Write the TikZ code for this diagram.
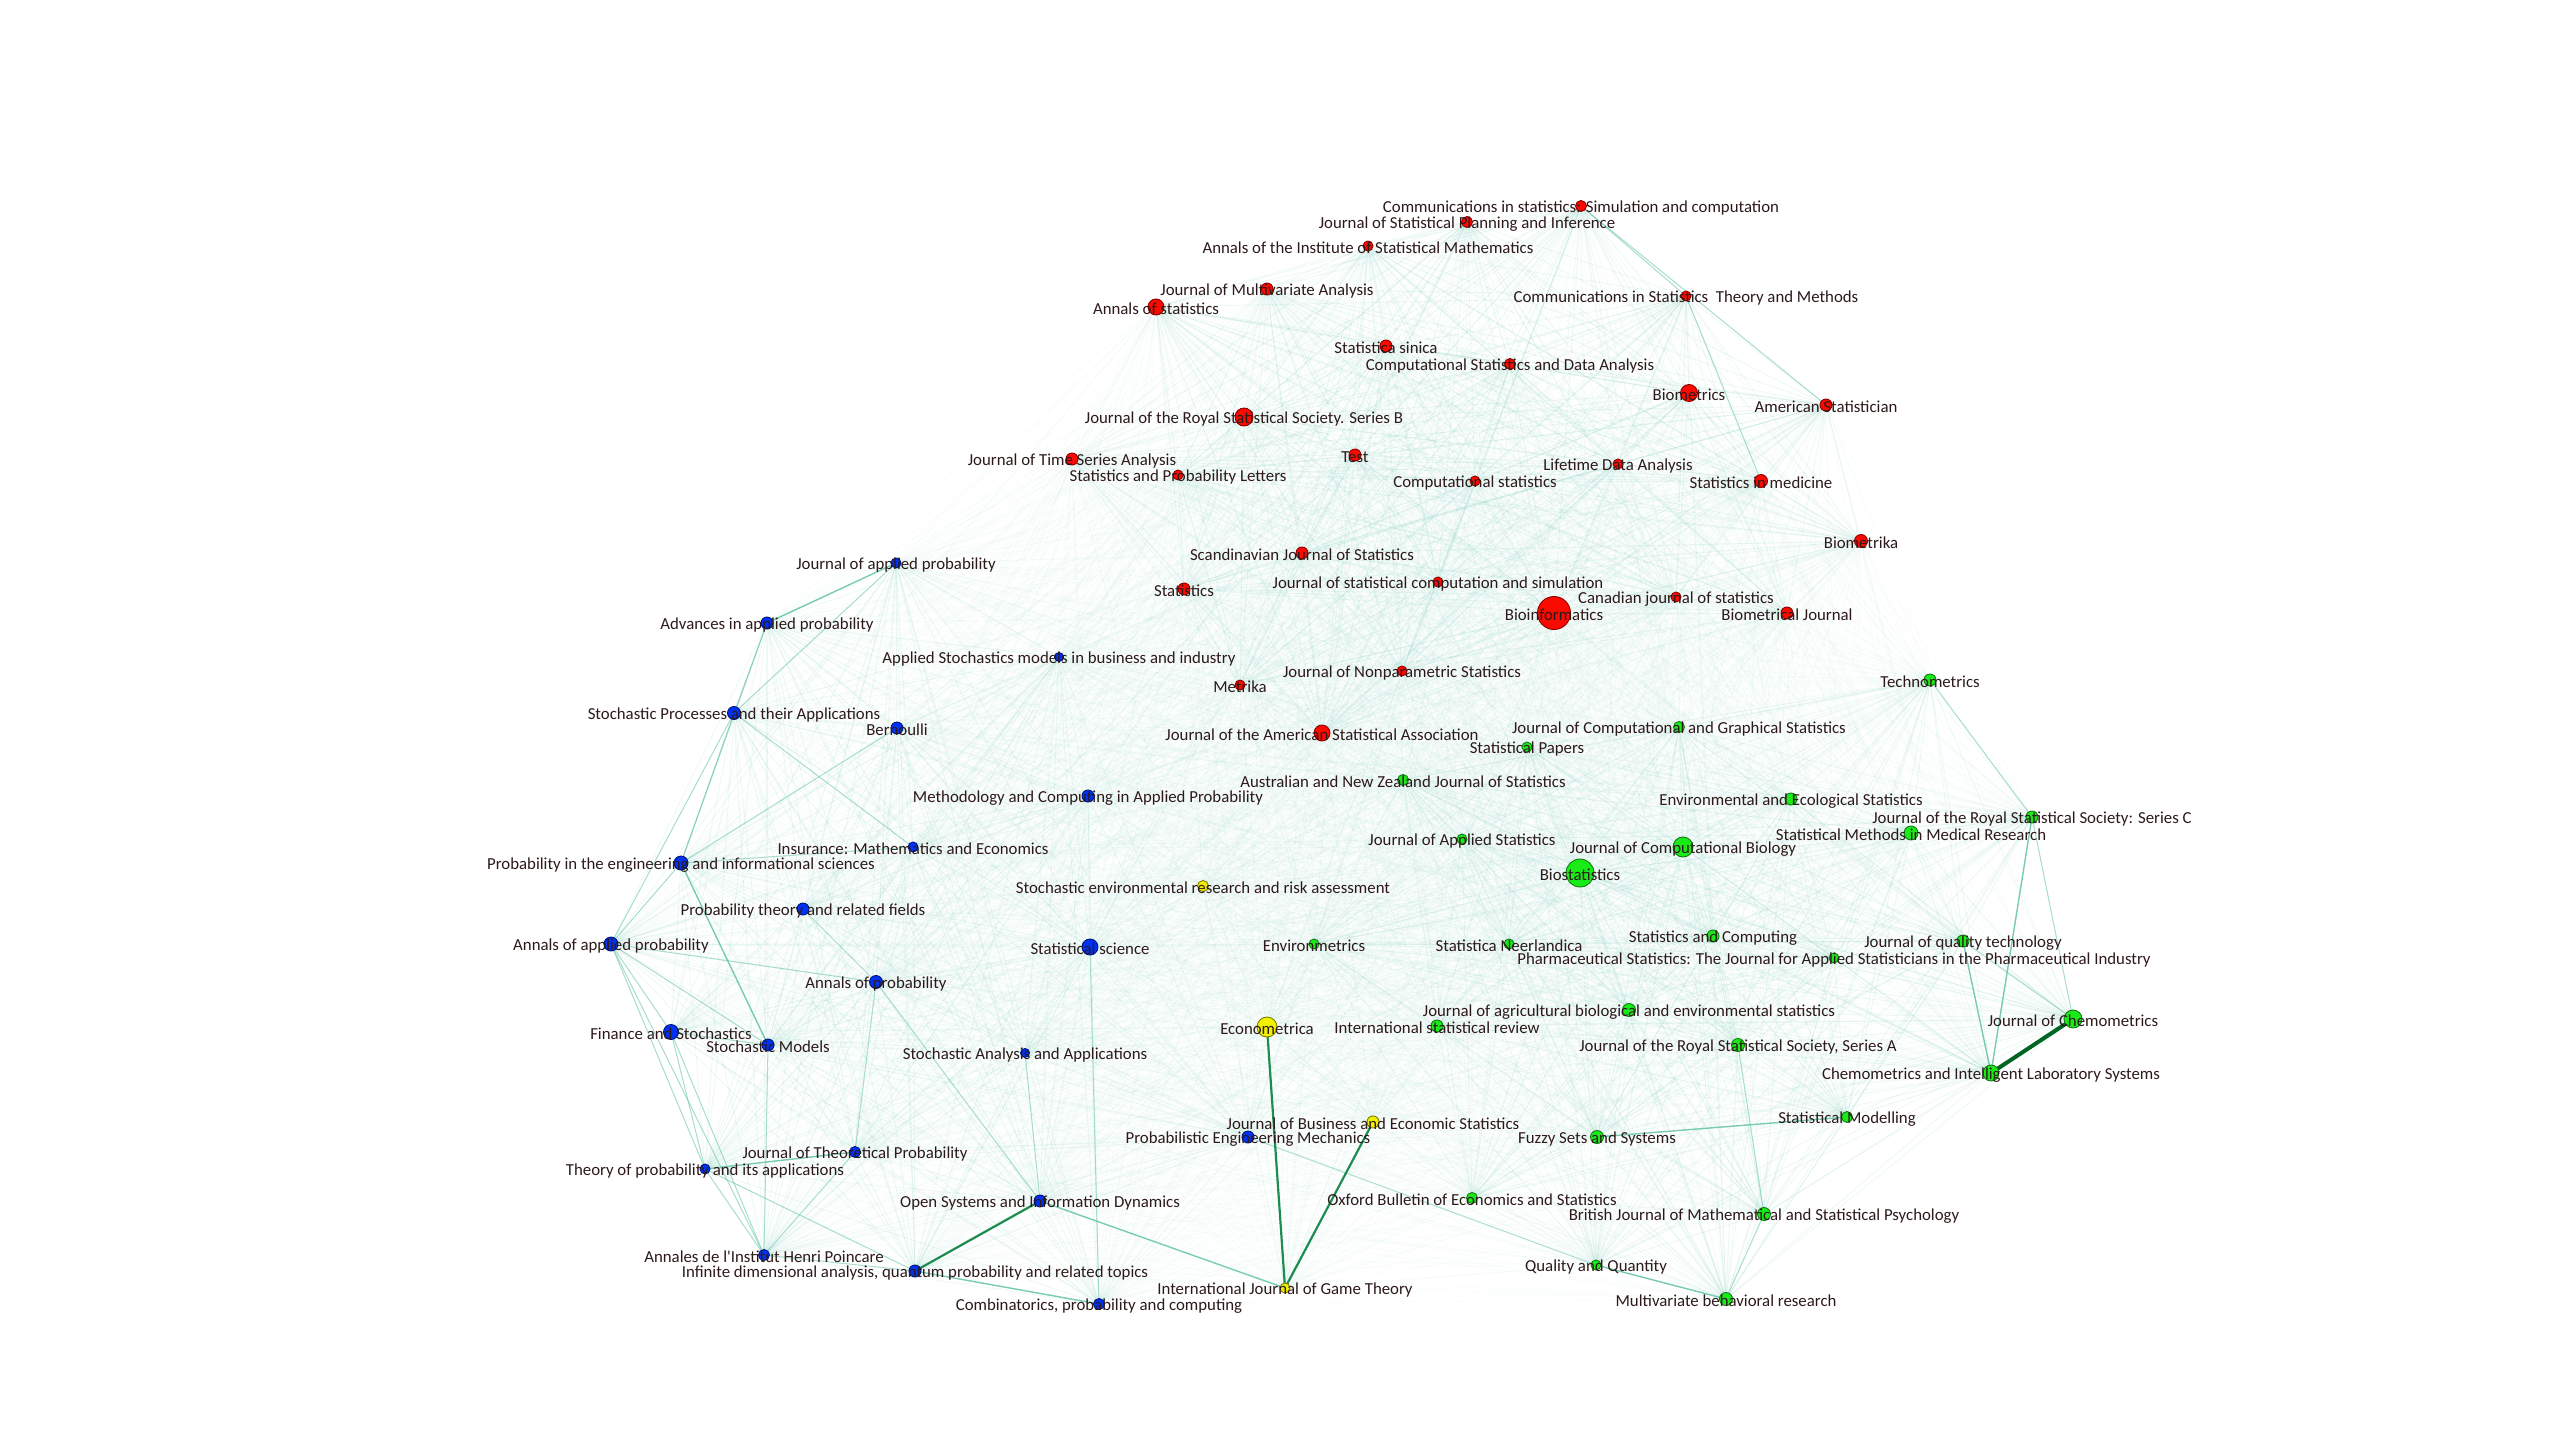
\documentclass[tikz,border=0pt]{standalone}
\usepackage{fontspec}
\setmainfont{Carlito}
\pgfdeclarelayer{background}
\pgfsetlayers{background,main}
\definecolor{txt}{RGB}{45,25,25}
\definecolor{edgec}{RGB}{120,200,180}
\definecolor{medc}{RGB}{100,195,165}
\definecolor{darkc}{RGB}{30,140,80}
\definecolor{darkestc}{RGB}{0,100,35}
\definecolor{rfill}{RGB}{250,10,0}
\definecolor{rdraw}{RGB}{140,0,0}
\definecolor{bfill}{RGB}{0,50,245}
\definecolor{bdraw}{RGB}{0,20,120}
\definecolor{yfill}{RGB}{240,240,0}
\definecolor{ydraw}{RGB}{130,125,0}
\definecolor{gfill}{RGB}{25,235,25}
\definecolor{gdraw}{RGB}{20,120,20}
\newcommand\jour[6]{\node[#2,minimum size=#3pt,label={[lab]center:{#6}}] (#1) at (#4,#5) {};}
\begin{document}
\begin{tikzpicture}[x=1pt,y=-1pt,
  jn/.style={circle,inner sep=0pt,line width=0.9pt},
  rn/.style={jn,fill=rfill,draw=rdraw},
  bn/.style={jn,fill=bfill,draw=bdraw},
  yn/.style={jn,fill=yfill,draw=ydraw},
  gn/.style={jn,fill=gfill,draw=gdraw},
  lab/.style={font=\fontsize{16.8}{18}\selectfont,text=txt,inner sep=0pt,yshift=-2pt},
  faintin/.style={draw=edgec,opacity=0.13,line width=0.9pt},
  faintout/.style={draw=edgec,opacity=0.045,line width=0.9pt},
  lightedge/.style={draw=medc,opacity=0.5,line width=1pt},
  mededge/.style={draw=medc,opacity=0.85,line width=1.4pt},
  strongedge/.style={draw=darkc,line width=2.2pt},
  heavyedge/.style={draw=darkestc,line width=4pt}]
\useasboundingbox (0,0) rectangle (2560,1440);
% statistics (red)
\jour{n1}{rn}{11}{1581}{206}{Communications in statistics: Simulation and computation}
\jour{n2}{rn}{11}{1467}{222}{Journal of Statistical Planning and Inference}
\jour{n3}{rn}{10}{1368}{246}{Annals of the Institute of Statistical Mathematics}
\jour{n4}{rn}{12}{1267}{289}{Journal of Multivariate Analysis}
\jour{n5}{rn}{16}{1156}{307}{Annals of statistics}
\jour{n6}{rn}{10}{1686}{296}{Communications in Statistics\ \ Theory and Methods}
\jour{n7}{rn}{12}{1386}{346}{Statistica sinica}
\jour{n8}{rn}{11}{1510}{364}{Computational Statistics and Data Analysis}
\jour{n9}{rn}{17}{1689}{393}{Biometrics}
\jour{n10}{rn}{12}{1826}{405}{American Statistician}
\jour{n11}{rn}{18}{1244}{417}{Journal of the Royal Statistical Society. Series B}
\jour{n12}{rn}{12}{1355}{455}{Test}
\jour{n13}{rn}{12}{1072}{459}{Journal of Time Series Analysis}
\jour{n14}{rn}{10}{1178}{475}{Statistics and Probability Letters}
\jour{n15}{rn}{10}{1475}{481}{Computational statistics}
\jour{n16}{rn}{10}{1618}{464}{Lifetime Data Analysis}
\jour{n17}{rn}{13}{1761}{481}{Statistics in medicine}
\jour{n18}{rn}{13}{1861}{541}{Biometrika}
\jour{n19}{rn}{12}{1302}{553}{Scandinavian Journal of Statistics}
\jour{n20}{rn}{12}{1184}{589}{Statistics}
\jour{n21}{rn}{10}{1438}{582}{Journal of statistical computation and simulation}
\jour{n22}{rn}{10}{1676}{597}{Canadian journal of statistics}
\jour{n23}{rn}{33}{1554}{613}{Bioinformatics}
\jour{n24}{rn}{12}{1787}{613}{Biometrical Journal}
\jour{n25}{rn}{10}{1402}{671}{Journal of Nonparametric Statistics}
\jour{n26}{rn}{10}{1240}{685}{Metrika}
\jour{n27}{rn}{16}{1322}{733}{Journal of the American Statistical Association}
% probability (blue)
\jour{n28}{bn}{10}{896}{563}{Journal of applied probability}
\jour{n29}{bn}{12}{767}{623}{Advances in applied probability}
\jour{n30}{bn}{9}{1059}{657}{Applied Stochastics models in business and industry}
\jour{n31}{bn}{13}{734}{713}{Stochastic Processes and their Applications}
\jour{n32}{bn}{12}{897}{728}{Bernoulli}
\jour{n33}{bn}{12}{1088}{796}{Methodology and Computing in Applied Probability}
\jour{n34}{bn}{10}{913}{847}{Insurance: Mathematics and Economics}
\jour{n35}{bn}{14}{681}{863}{Probability in the engineering and informational sciences}
\jour{n36}{bn}{12}{803}{909}{Probability theory and related fields}
\jour{n37}{bn}{14}{611}{944}{Annals of applied probability}
\jour{n38}{bn}{16}{1090}{947}{Statistical science}
\jour{n39}{bn}{13}{876}{982}{Annals of probability}
\jour{n40}{bn}{15}{671}{1032}{Finance and Stochastics}
\jour{n41}{bn}{12}{768}{1045}{Stochastic Models}
\jour{n42}{bn}{9}{1025}{1053}{Stochastic Analysis and Applications}
\jour{n43}{bn}{12}{1248}{1137}{Probabilistic Engineering Mechanics}
\jour{n44}{bn}{11}{855}{1152}{Journal of Theoretical Probability}
\jour{n45}{bn}{10}{705}{1169}{Theory of probability and its applications}
\jour{n46}{bn}{12}{1040}{1201}{Open Systems and Information Dynamics}
\jour{n47}{bn}{11}{764}{1255}{Annales de l\textquotesingle Institut Henri Poincare}
\jour{n48}{bn}{12}{915}{1271}{Infinite dimensional analysis, quantum probability and related topics}
\jour{n49}{bn}{11}{1099}{1304}{Combinatorics, probability and computing}
% economics (yellow)
\jour{n50}{yn}{11}{1203}{886}{Stochastic environmental research and risk assessment}
\jour{n51}{yn}{20}{1267}{1027}{Econometrica}
\jour{n52}{yn}{12}{1373}{1122}{Journal of Business and Economic Statistics}
\jour{n53}{yn}{10}{1285}{1288}{International Journal of Game Theory}
% applied (green)
\jour{n54}{gn}{12}{1930}{680}{Technometrics}
\jour{n55}{gn}{11}{1679}{727}{Journal of Computational and Graphical Statistics}
\jour{n56}{gn}{10}{1527}{747}{Statistical Papers}
\jour{n57}{gn}{11}{1403}{780}{Australian and New Zealand Journal of Statistics}
\jour{n58}{gn}{12}{1791}{799}{Environmental and Ecological Statistics}
\jour{n59}{gn}{12}{2032}{817}{Journal of the Royal Statistical Society: Series C}
\jour{n60}{gn}{14}{1911}{833}{Statistical Methods in Medical Research}
\jour{n61}{gn}{10}{1462}{839}{Journal of Applied Statistics}
\jour{n62}{gn}{20}{1683}{847}{Journal of Computational Biology}
\jour{n63}{gn}{28}{1580}{873}{Biostatistics}
\jour{n64}{gn}{12}{1713}{936}{Statistics and Computing}
\jour{n65}{gn}{12}{1963}{941}{Journal of quality technology}
\jour{n66}{gn}{10}{1509}{944}{Statistica Neerlandica}
\jour{n67}{gn}{10}{1314}{944}{Environmetrics}
\jour{n68}{gn}{10}{1834}{958}{Pharmaceutical Statistics: The Journal for Applied Statisticians in the Pharmaceutical Industry}
\jour{n69}{gn}{13}{1629}{1010}{Journal of agricultural biological and environmental statistics}
\jour{n70}{gn}{12}{1437}{1026}{International statistical review}
\jour{n71}{gn}{18}{2073}{1019}{Journal of Chemometrics}
\jour{n72}{gn}{13}{1738}{1045}{Journal of the Royal Statistical Society, Series A}
\jour{n73}{gn}{16}{1991}{1073}{Chemometrics and Intelligent Laboratory Systems}
\jour{n74}{gn}{11}{1847}{1117}{Statistical Modelling}
\jour{n75}{gn}{13}{1597}{1137}{Fuzzy Sets and Systems}
\jour{n76}{gn}{11}{1472}{1198}{Oxford Bulletin of Economics and Statistics}
\jour{n77}{gn}{13}{1764}{1214}{British Journal of Mathematical and Statistical Psychology}
\jour{n78}{gn}{10}{1596}{1265}{Quality and Quantity}
\jour{n79}{gn}{13}{1726}{1299}{Multivariate behavioral research}
\begin{pgfonlayer}{background}
\foreach \i in {1,...,78}{
  \pgfmathtruncatemacro\ip{\i+1}
  \pgfmathtruncatemacro\ci{(\i>27)+(\i>49)+(\i>53)}
  \foreach \j in {\ip,...,79}{
    \pgfmathtruncatemacro\cj{(\j>27)+(\j>49)+(\j>53)}
    \ifnum\ci=\cj
      \draw[faintin] (n\i.center) -- (n\j.center);
    \else
      \draw[faintout] (n\i.center) -- (n\j.center);
    \fi
  }
}
\foreach \a/\b in {28/31,29/35,29/31,31/35,31/37,31/34,32/35,35/37,35/34,
  37/40,37/41,37/45,37/47,37/39,40/41,40/45,40/47,45/47,45/48,47/44,47/48,47/41,
  46/39,46/42,49/38,39/36,39/44,65/71,59/71,54/59,
  43/78,72/77,77/79,1/6,1/10,6/17}{
  \draw[lightedge] (n\a.center) -- (n\b.center);
}
\foreach \a/\b in {28/29,35/41,45/44,48/49,46/53,65/73,59/73,75/74,78/79}{
  \draw[mededge] (n\a.center) -- (n\b.center);
}
\draw[strongedge] (n51.center) -- (n53.center);
\draw[strongedge] (n53.center) -- (n52.center);
\draw[strongedge] (n48.center) -- (n46.center);
\draw[heavyedge] (n71.center) -- (n73.center);
\end{pgfonlayer}
\end{tikzpicture}
\end{document}
